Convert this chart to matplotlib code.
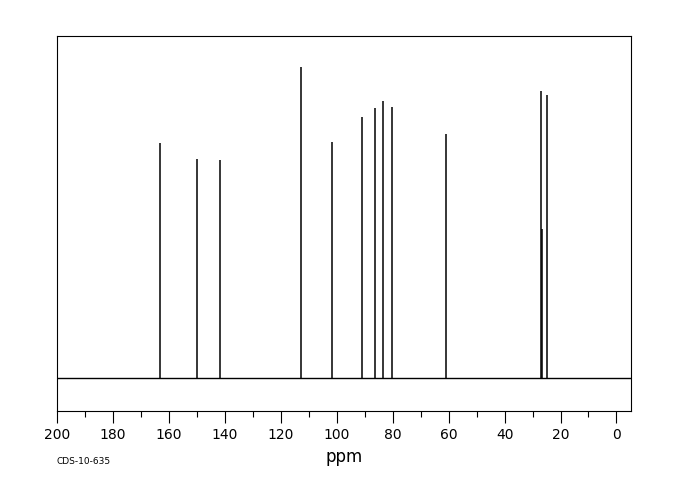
import matplotlib
matplotlib.use("Agg")
import matplotlib.pyplot as plt
from matplotlib.ticker import MultipleLocator

# Peak positions (ppm) and relative intensities
peak_ppm = [163.0, 150.1, 141.7, 112.75, 101.7, 91.0, 86.3, 83.5, 80.4, 61.1, 27.0, 26.7, 25.0]
peak_int = [75.5, 70.4, 70.1, 100.0, 75.9, 83.9, 86.8, 89.1, 87.1, 78.5, 92.3, 47.9, 91.0]
tick_values = [200, 180, 160, 140, 120, 100, 80, 60, 40, 20, 0]
x_label = "ppm"
code_label = "CDS-10-635"

fig = plt.figure(figsize=(6.8, 5.0), dpi=100)
ax = fig.add_axes([57/680, 89/500, 574/680, 375/500])

xmin, xmax = 200, -5.2
ax.set_xlim(xmin, xmax)
ax.set_ylim(-10.6, 110.0)

ax.plot([xmin, xmax], [0, 0], color="black", lw=1.0)
ax.vlines(peak_ppm, 0, peak_int, color="black", lw=1.1)

ax.xaxis.set_major_locator(MultipleLocator(20))
ax.xaxis.set_minor_locator(MultipleLocator(10))
ax.set_xticks(tick_values)
ax.set_xticklabels([str(t) for t in tick_values], fontsize=10)
ax.tick_params(axis="x", which="major", direction="out", length=8.5, width=0.8, pad=4)
ax.tick_params(axis="x", which="minor", direction="out", length=4.5, width=0.8)
ax.set_yticks([])
for s in ax.spines.values():
    s.set_linewidth(0.8)
    s.set_color("black")

ax.set_xlabel(x_label, fontsize=12, labelpad=4)
fig.text(57/680, 1 - 462/500, code_label, fontsize=6.5, va="center", ha="left")

fig.savefig("out.png", dpi=100)
